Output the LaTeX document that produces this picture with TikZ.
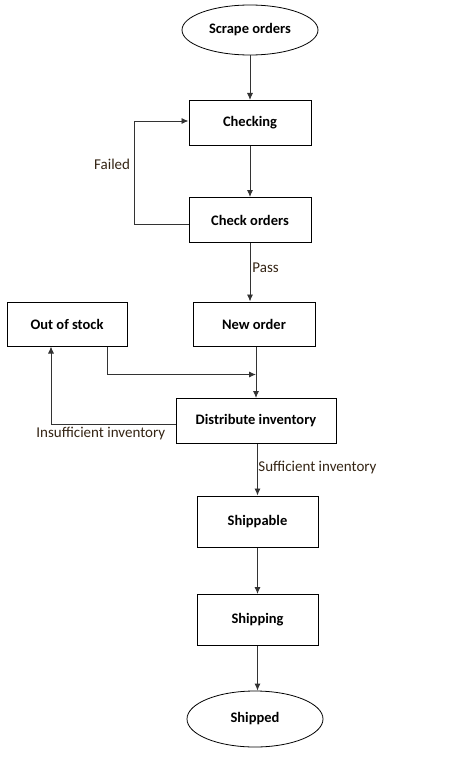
\documentclass[tikz,border=0pt]{standalone}
\usepackage{fontspec}
\setmainfont{Carlito}
\usepackage{xcolor}
\usetikzlibrary{positioning, arrows.meta, shapes.geometric}
\definecolor{lblbrown}{RGB}{52,36,20}

\begin{document}
\begin{tikzpicture}
			[node distance=97pt,
			box/.style={draw, line width=1pt, minimum width=122pt, minimum height=45pt, font=\bfseries\fontsize{14.5}{16}\selectfont},
			term/.style={draw, ellipse, line width=0.8pt, minimum width=136pt, minimum height=50pt, inner sep=0pt, font=\bfseries\fontsize{14.5}{16}\selectfont},
			lbl/.style={text=lblbrown, inner sep=2pt, font=\fontsize{15}{17}\selectfont},
			arr/.style={-{Latex[length=7pt,width=6pt]}, line width=0.9pt, black!80}]
		\useasboundingbox (0,0) rectangle (476pt,-757pt);
		% nodes %
		\node[term] (scrape) at (250pt,-30pt) {Scrape orders};
		\node[box, below of = scrape, yshift=4pt] (check) {Checking};
		\node[box, below of = check] (orders) {Check orders};
		\node[box, below of = orders, xshift=4pt, yshift=-7pt, minimum height=44pt] (new) {New order};
		\node[box, left of = new, node distance=187pt, minimum width=120pt, minimum height=44pt] (stock) {Out of stock};
		\node[box, below of = new, xshift=2pt, minimum width=160pt] (dist) {Distribute inventory};
		\node[box, below of = dist, xshift=1.5pt, yshift=-3.5pt, minimum width=121pt, minimum height=51pt] (shippable) {Shippable};
		\node[box, below of = shippable, yshift=-1.5pt, minimum width=121pt, minimum height=51pt] (shipping) {Shipping};
		\node[term, below of = shipping, xshift=-2.5pt, yshift=-2pt, minimum height=56pt] (shipped) {Shipped};
		\coordinate (merge) at ([yshift=-28pt]dist.north |- new.south);

		% edges %
		\draw[arr] (scrape) -- (check);
		\draw[arr] (check) -- (orders);
		\draw[arr] ([yshift=-4pt]orders.west) -- ++(-54pt,0) |- node[lbl, left, pos=0.29, inner sep=4pt] {Failed} ([yshift=2pt]check.west);
		\draw[arr] (orders.south) -- node[lbl, right, pos=0.42] {Pass} (orders.south |- new.north);
		\draw[arr] ([xshift=40pt]stock.south) |- (merge);
		\draw[arr] (dist.north |- new.south) -- (dist.north);
		\draw[arr] ([yshift=-3pt]dist.west) -| node[lbl, below, pos=0.3, inner sep=3pt] {Insufficient inventory} ([xshift=-16pt]stock.south);
		\draw[arr] (dist.south -| shippable.north) -- node[lbl, right, pos=0.45, inner sep=0.5pt] {Sufficient inventory} (shippable.north);
		\draw[arr] (shippable) -- (shipping);
		\draw[arr] (shipping.south) -- (shipping.south |- shipped.north);
		\end{tikzpicture}
\end{document}
